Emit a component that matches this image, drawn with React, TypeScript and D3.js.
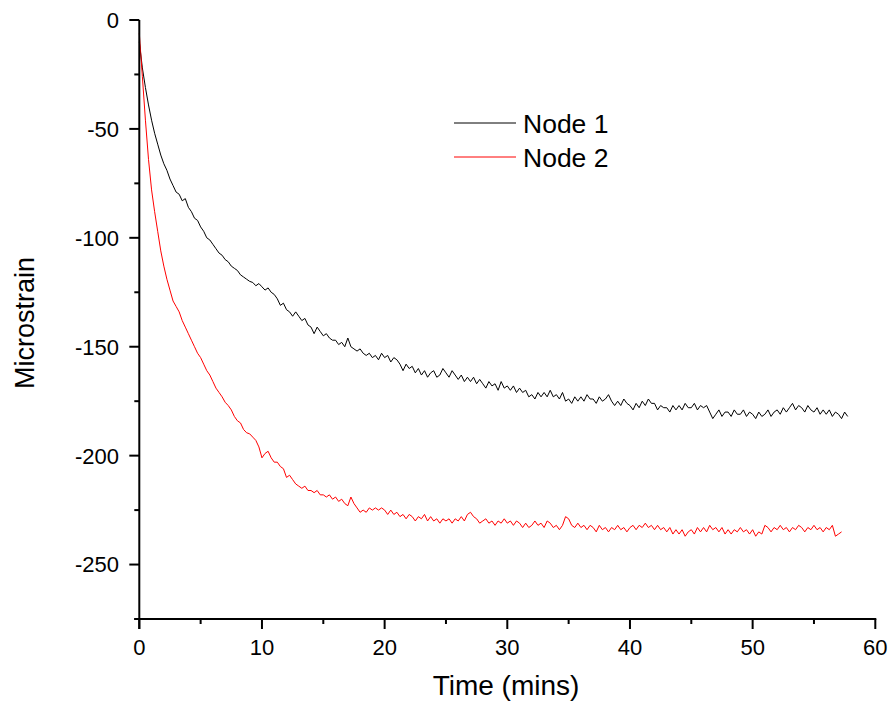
import React from "react";
import * as d3 from "d3";

const seriesNames = ["Node 1", "Node 2"];
const seriesColors = ["#000000", "#ff0000"];
const sampleStep = 0.25; // minutes between samples

const node1 = [
  -10, -22, -31, -39,
  -46, -52, -57, -62,
  -66, -69, -73, -76,
  -79, -80, -83, -82,
  -86, -88, -91, -92,
  -95, -97, -100, -101,
  -103, -105, -107, -108,
  -110, -111, -113, -114,
  -115, -117, -118, -119,
  -120, -120.5, -122, -121,
  -122.5, -124, -123, -125,
  -126, -128, -131, -130,
  -133, -134, -136, -134,
  -136, -138, -137, -140,
  -141, -144, -141, -143,
  -145, -144, -146, -147,
  -147, -149, -148, -150,
  -146, -150, -151, -152,
  -151, -153, -154, -153,
  -155, -154, -156, -153,
  -155, -154, -157, -155,
  -156, -158, -161, -158,
  -160, -159, -162, -160,
  -163, -161, -164, -162,
  -161, -164, -163, -160,
  -162, -164, -161, -163,
  -165, -163, -166, -164,
  -166, -164, -167, -165,
  -167, -169, -166, -168,
  -167, -170, -166, -169,
  -168, -170, -168, -171,
  -169, -171, -170, -173,
  -172, -174, -171, -173,
  -171, -173, -170, -173,
  -172, -174, -171, -175,
  -174, -176, -173, -175,
  -173, -175, -172, -174,
  -174, -176, -173, -175,
  -174, -172, -175, -177,
  -175, -177, -174, -176,
  -177, -179, -176, -178,
  -175, -177, -174, -176,
  -176, -179, -177, -178,
  -178, -180, -177, -179,
  -177, -179, -176, -178,
  -178, -176, -179, -177,
  -178, -177, -180, -183,
  -181, -179, -182, -180,
  -180, -182, -179, -181,
  -181, -179, -182, -180,
  -181, -183, -180, -182,
  -181, -179, -182, -180,
  -179, -181, -178, -180,
  -178, -176, -179, -177,
  -178, -180, -177, -179,
  -180, -178, -181, -179,
  -181, -179, -182, -180,
  -181, -183, -180, -182,
];

const node2 = [
  -6, -26, -46, -64,
  -78, -88, -97, -106,
  -113, -119, -124, -129,
  -131.5, -134, -138, -141,
  -144, -147, -150, -153,
  -155, -158, -161, -163,
  -166, -169, -171, -173,
  -175.5, -177, -179, -182,
  -184, -185, -188, -189.5,
  -190, -191.5, -193, -196,
  -201, -199, -198, -201,
  -203, -203, -205, -206,
  -210, -209, -211, -213,
  -214, -215, -214, -216,
  -216, -217, -216, -218,
  -218, -219, -218, -220,
  -219, -221, -220, -222,
  -223, -219, -222, -224,
  -226, -225, -226, -224,
  -225, -224, -225, -224,
  -225, -227, -225, -227,
  -226, -228, -227, -229,
  -227, -228, -230, -228,
  -229, -227, -230, -228,
  -230, -229, -231, -229,
  -230, -229, -231, -229,
  -230, -228, -230, -227,
  -226, -228, -229, -231,
  -230, -229, -231, -230,
  -232, -230, -231, -229,
  -231, -230, -232, -230,
  -231, -233, -231, -233,
  -232, -230, -232, -231,
  -233, -230, -231, -233,
  -232, -234, -232, -228,
  -229, -232, -233, -231,
  -233, -232, -234, -232,
  -233, -235, -232, -234,
  -233, -235, -233, -234,
  -232, -234, -233, -235,
  -233, -232, -234, -232,
  -233, -231, -233, -232,
  -234, -232, -234, -233,
  -235, -233, -236, -234,
  -236, -234, -237, -235,
  -234, -236, -233, -235,
  -233, -235, -232, -234,
  -233, -235, -233, -236,
  -234, -236, -234, -235,
  -233, -235, -234, -236,
  -234, -237, -235, -236,
  -232, -233, -235, -233,
  -234, -232, -234, -233,
  -235, -233, -234, -232,
  -233, -235, -233, -234,
  -232, -234, -233, -235,
  -233, -234, -232, -237,
  -236, -235,
];

const xTickValues = [0, 10, 20, 30, 40, 50, 60];
const xMinorTicks = [5, 15, 25, 35, 45, 55];
const yTickValues = [0, -50, -100, -150, -200, -250];
const yMinorTicks = [-25, -75, -125, -175, -225, -275];

const W = 889;
const H = 704;
const FONT = "Arial, 'Liberation Sans', Helvetica, sans-serif";

export default function App() {
  const x = d3.scaleLinear().domain([0, 60]).range([139.3, 875.3]);
  const y = d3.scaleLinear().domain([-275, 0]).range([619, 20]);

  const line = d3
    .line<number>()
    .x((_, i) => x(i * sampleStep))
    .y((v) => y(v));

  const series = [node1, node2];
  const x0 = x(0);
  const yb = y(-275);

  return (
    <svg
      width={W}
      height={H}
      style={{ position: "absolute", left: 0, top: 0, background: "#fff" }}
      fontFamily={FONT}
    >
      {/* data lines */}
      {series.map((s, k) => (
        <path key={k} d={line(s) || ""} fill="none" stroke={seriesColors[k]} strokeWidth={1} />
      ))}

      {/* y axis */}
      <line x1={x0} x2={x0} y1={y(0)} y2={yb + 10} stroke="#000" strokeWidth={2} />
      {yTickValues.map((v) => (
        <g key={"yt" + v}>
          <line x1={x0 - 10} x2={x0} y1={y(v)} y2={y(v)} stroke="#000" strokeWidth={2} />
          <text x={119} y={y(v)} dy="0.36em" textAnchor="end" fontSize={22}>
            {v}
          </text>
        </g>
      ))}
      {yMinorTicks.map((v) => (
        <line key={"ym" + v} x1={x0 - 5} x2={x0} y1={y(v)} y2={y(v)} stroke="#000" strokeWidth={2} />
      ))}

      {/* x axis */}
      <line x1={x0 - 5} x2={x(60) + 1} y1={yb} y2={yb} stroke="#000" strokeWidth={2} />
      {xTickValues.map((v) => (
        <g key={"xt" + v}>
          <line x1={x(v)} x2={x(v)} y1={yb} y2={yb + 10} stroke="#000" strokeWidth={2} />
          <text x={x(v)} y={655} textAnchor="middle" fontSize={22}>
            {v}
          </text>
        </g>
      ))}
      {xMinorTicks.map((v) => (
        <line key={"xm" + v} x1={x(v)} x2={x(v)} y1={yb} y2={yb + 5} stroke="#000" strokeWidth={2} />
      ))}

      {/* axis titles */}
      <text x={506} y={695} textAnchor="middle" fontSize={28}>
        Time (mins)
      </text>
      <text
        transform={`translate(34,323) rotate(-90)`}
        textAnchor="middle"
        fontSize={27}
      >
        Microstrain
      </text>

      {/* legend */}
      {seriesNames.map((name, k) => (
        <g key={name}>
          <line
            x1={454}
            x2={516}
            y1={123 + k * 34}
            y2={123 + k * 34}
            stroke={seriesColors[k]}
            strokeWidth={1}
          />
          <text x={523} y={133 + k * 34} fontSize={26.5}>
            {name}
          </text>
        </g>
      ))}
    </svg>
  );
}
